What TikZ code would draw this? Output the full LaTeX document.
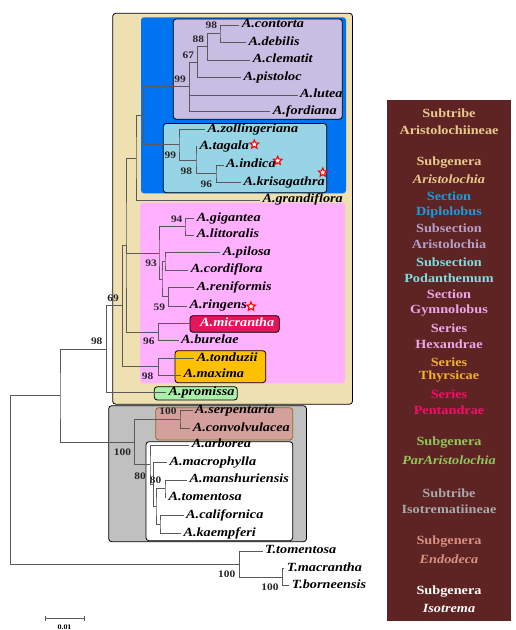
\documentclass[tikz,border=0pt]{standalone}
\usepackage{fontspec}
\setmainfont{Liberation Serif}[FakeStretch=1.14]
\usetikzlibrary{shapes.geometric}
\definecolor{brcol}{HTML}{5A5A5A}
\definecolor{tanbg}{HTML}{EEE0B0}
\definecolor{bluebg}{HTML}{0073F0}
\definecolor{purplebg}{HTML}{C8BEE4}
\definecolor{cyanbg}{HTML}{96D4E6}
\definecolor{pinkbg}{HTML}{FFB0FF}
\definecolor{redbg}{HTML}{E6145A}
\definecolor{orangebg}{HTML}{FFC000}
\definecolor{greenbg}{HTML}{AAF0AA}
\definecolor{greybg}{HTML}{C0C0C0}
\definecolor{brownbg}{HTML}{D4A09C}
\definecolor{brownln}{HTML}{8A7020}
\definecolor{legbg}{HTML}{5E2424}
\definecolor{lgtan}{HTML}{E8C88C}
\definecolor{lgblue}{HTML}{1A9BE0}
\definecolor{lglav}{HTML}{B4A0C8}
\definecolor{lgcyan}{HTML}{78E0E0}
\definecolor{lgpink}{HTML}{E8A8E8}
\definecolor{lgorange}{HTML}{F0B030}
\definecolor{lgmag}{HTML}{F0106A}
\definecolor{lggreen}{HTML}{90C858}
\definecolor{lggrey}{HTML}{A8A8A8}
\definecolor{lgsalmon}{HTML}{D89080}
\begin{document}
\begin{tikzpicture}[x=1pt,y=-1pt,
  br/.style={draw=brcol, line width=0.8pt},
  leaf/.style={anchor=west, inner xsep=2.5pt, xshift=-2.5pt, inner ysep=0pt,
    font=\fontsize{12.5}{14}\selectfont\bfseries\itshape, text height=8pt, text depth=2.5pt, text=black},
  bs/.style={inner sep=0pt, font=\fontsize{10}{12}\selectfont\bfseries, text=black!85},
  lg/.style={inner sep=0pt, font=\fontsize{12.5}{14}\selectfont\bfseries},
  lgi/.style={inner sep=0pt, font=\fontsize{12.5}{14}\selectfont\bfseries\itshape},
  cbox/.style={rounded corners=3pt, draw=black, line width=0.8pt},
  pbox/.style={rounded corners=3pt},
  rstar/.style={star, star points=5, star point ratio=2.2, minimum size=9pt, inner sep=0pt, draw=red, line width=1.1pt, fill=white}
]
\useasboundingbox (0,0) rectangle (516,630);
% clade boxes
\path[cbox, fill=tanbg] (112.7,13.3) rectangle (352.5,404.2);
\path[pbox, fill=bluebg] (141,17.3) rectangle (346,193.3);
\path[cbox, fill=purplebg] (173.3,19) rectangle (342.3,119.2);
\path[cbox, fill=cyanbg] (163.3,123.5) rectangle (326.7,192.7);
\path[pbox, fill=pinkbg] (140,202.5) rectangle (345,383.3);
\path[cbox, fill=redbg] (190,315.7) rectangle (279.3,332.3);
\path[cbox, fill=orangebg] (175,350.7) rectangle (265.7,382.7);
\path[cbox, fill=greenbg] (154.3,386.7) rectangle (237.3,400);
\path[cbox, fill=greybg] (108.7,405.7) rectangle (306.5,541.7);
\path[cbox, fill=brownbg, draw=brownln] (155.7,407.7) rectangle (292.7,440);
\path[cbox, fill=white] (146,441.7) rectangle (292.7,540.7);
% leaves
\node[leaf] (contorta) at (241.7,25) {A.contorta};
\node[leaf] (debilis) at (248.3,42.3) {A.debilis};
\node[leaf] (clematit) at (252.7,60) {A.clematit};
\node[leaf] (pistoloc) at (243.3,77.3) {A.pistoloc};
\node[leaf] (lutea) at (300,95) {A.lutea};
\node[leaf] (fordiana) at (272.7,111.7) {A.fordiana};
\node[leaf] (zollingeriana) at (207.3,129.3) {A.zollingeriana};
\node[leaf] (tagala) at (199.3,146.7) {A.tagala};
\node[leaf] (indica) at (226,165) {A.indica};
\node[leaf] (krisagathra) at (243.3,182.7) {A.krisagathra};
\node[leaf] (grandiflora) at (262.3,200) {A.grandiflora};
\node[leaf] (gigantea) at (196.7,218.3) {A.gigantea};
\node[leaf] (littoralis) at (196.7,235) {A.littoralis};
\node[leaf] (pilosa) at (222.7,252.7) {A.pilosa};
\node[leaf] (cordiflora) at (190.7,270) {A.cordiflora};
\node[leaf] (reniformis) at (196.7,287.7) {A.reniformis};
\node[leaf] (ringens) at (189.3,306) {A.ringens};
\node[leaf, text=white] (micrantha) at (200,323.3) {A.micrantha};
\node[leaf] (burelae) at (181,340.7) {A.burelae};
\node[leaf] (tonduzii) at (196.7,358.3) {A.tonduzii};
\node[leaf] (maxima) at (183.3,375) {A.maxima};
\node[leaf] (promissa) at (168.3,392.7) {A.promissa};
\node[leaf] (serpentaria) at (195,410.7) {A.serpentaria};
\node[leaf] (convolvulacea) at (192.7,428.3) {A.convolvulacea};
\node[leaf] (arborea) at (191.7,445) {A.arborea};
\node[leaf] (macrophylla) at (169.3,462.7) {A.macrophylla};
\node[leaf] (manshuriensis) at (189.3,480) {A.manshuriensis};
\node[leaf] (tomentosa) at (168.3,497.7) {A.tomentosa};
\node[leaf] (californica) at (186,515.7) {A.californica};
\node[leaf] (kaempferi) at (183.3,533.3) {A.kaempferi};
\node[leaf] (Ttom) at (265,551) {T.tomentosa};
\node[leaf] (Tmac) at (286.7,568.3) {T.macrantha};
\node[leaf] (Tbor) at (291.7,585.7) {T.borneensis};
% stars
\node[rstar] (s1) at (254.3,144.5) {};
\node[rstar] (s2) at (277.7,160.7) {};
\node[rstar] (s3) at (322.8,172.5) {};
\node[rstar] (s4) at (251,306.5) {};
% internal nodes
\coordinate (n98a) at (220,33.7);
\coordinate (n88) at (207.3,46.8);
\coordinate (n67) at (197.7,62);
\coordinate (n99a) at (189.3,86.8);
\coordinate (n96c) at (216,173.8);
\coordinate (n98c) at (196,160.3);
\coordinate (n99c) at (179,144.8);
\coordinate (nB) at (143.3,115.8);
\coordinate (nZ) at (136,157.9);
\coordinate (n94) at (185,226.7);
\coordinate (nP) at (165,261.3);
\coordinate (nR) at (168.3,296.8);
\coordinate (nW) at (162,279);
\coordinate (n93) at (159,252.9);
\coordinate (n96m) at (158.3,332);
\coordinate (nY) at (126,245);
\coordinate (n98t) at (158.3,366.7);
\coordinate (nX) at (122.7,305.8);
\coordinate (n69) at (106.7,349.3);
\coordinate (nS) at (180,419.5);
\coordinate (nMT) at (165,488.8);
\coordinate (nCK) at (160,524.5);
\coordinate (nI3) at (156,506.7);
\coordinate (nI2) at (153.3,484.7);
\coordinate (nI1) at (150,464.8);
\coordinate (nE) at (134.3,442.2);
\coordinate (n98) at (60,395.8);
\coordinate (nTm) at (282.7,577);
\coordinate (nT) at (239.3,564);
\coordinate (root) at (10.7,479.9);
% branches
\draw[br] (contorta.west) -| (n98a) |- (debilis.west);
\draw[br] (n98a) -| (n88) |- (clematit.west);
\draw[br] (n88) -| (n67) |- (pistoloc.west);
\draw[br] (n67) -| (n99a) |- (fordiana.west);
\draw[br] (n99a) |- (lutea.west);
\draw[br] (indica.west) -| (n96c) |- (krisagathra.west);
\draw[br] (tagala.west) -| (n98c) |- (n96c);
\draw[br] (zollingeriana.west) -| (n99c) |- (n98c);
\draw[br] (n99a) -| (nB) |- (n99c);
\draw[br] (nB) -| (nZ) |- (grandiflora.west);
\draw[br] (gigantea.west) -| (n94) |- (littoralis.west);
\draw[br] (pilosa.west) -| (nP) |- (cordiflora.west);
\draw[br] (reniformis.west) -| (nR) |- (ringens.west);
\draw[br] (nP) -| (nW) |- (nR);
\draw[br] (n94) -| (n93) |- (nW);
\draw[br] (micrantha.west) -| (n96m) |- (burelae.west);
\draw[br] (nZ) -| (nY) |- (n96m);
\draw[br] (nY) |- (n93);
\draw[br] (tonduzii.west) -| (n98t) |- (maxima.west);
\draw[br] (nY) -| (nX) |- (n98t);
\draw[br] (nX) -| (n69) |- (promissa.west);
\draw[br] (serpentaria.west) -| (nS) |- (convolvulacea.west);
\draw[br] (manshuriensis.west) -| (nMT) |- (tomentosa.west);
\draw[br] (californica.west) -| (nCK) |- (kaempferi.west);
\draw[br] (nMT) -| (nI3) |- (nCK);
\draw[br] (macrophylla.west) -| (nI2) |- (nI3);
\draw[br] (arborea.west) -| (nI1) |- (nI2);
\draw[br] (nS) -| (nE) |- (nI1);
\draw[br] (n69) -| (n98) |- (nE);
\draw[br] (Tmac.west) -| (nTm) |- (Tbor.west);
\draw[br] (Ttom.west) -| (nT) |- (nTm);
\draw[br] (n98) -| (root) |- (nT);
% bootstrap values
\node[bs] (b1) at (211.3,25) {98};
\node[bs] (b2) at (198.3,39.3) {88};
\node[bs] (b3) at (188.3,55) {67};
\node[bs] (b4) at (180,79.3) {99};
\node[bs] (b5) at (170.3,155.7) {99};
\node[bs] (b6) at (186.3,171.7) {98};
\node[bs] (b7) at (206.3,184) {96};
\node[bs] (b8) at (176.7,219.3) {94};
\node[bs] (b9) at (151,263.3) {93};
\node[bs] (b10) at (159.3,307.3) {59};
\node[bs] (b11) at (148.8,341.7) {96};
\node[bs] (b12) at (147.5,376.7) {98};
\node[bs] (b13) at (113,298.3) {69};
\node[bs] (b14) at (96.7,341.7) {98};
\node[bs] (b15) at (168,411.5) {100};
\node[bs] (b16) at (122.5,452.7) {100};
\node[bs] (b17) at (140,476) {80};
\node[bs] (b18) at (155.5,480.7) {80};
\node[bs] (b19) at (226.7,574) {100};
\node[bs] (b20) at (270,587.3) {100};
% scale bar
\coordinate (sbl) at (45,618.3);
\coordinate (sbr) at (84.3,618.3);
\draw[br] (sbl) -- (sbr);
\draw[br] ([yshift=-2.5pt]sbl) -- ([yshift=2.5pt]sbl);
\draw[br] ([yshift=-2.5pt]sbr) -- ([yshift=2.5pt]sbr);
\node[inner sep=0pt, font=\fontsize{7}{8}\selectfont\bfseries] (sbt) at (64.5,627.3) {0.01};
% legend
\path[fill=legbg] (387,100) rectangle (511,621);
\node[lg, text=lgtan] (l1) at (449,113) {Subtribe};
\node[lg, text=lgtan] (l2) at (449,130) {Aristolochiineae};
\node[lg, text=lgtan] (l3) at (449,163) {Subgenera};
\node[lgi, text=lgtan] (l4) at (449,179) {Aristolochia};
\node[lg, text=lgblue] (l5) at (449,196) {Section};
\node[lg, text=lgblue] (l6) at (449,212) {Diplolobus};
\node[lg, text=lglav] (l7) at (449,228) {Subsection};
\node[lg, text=lglav] (l8) at (449,244) {Aristolochia};
\node[lg, text=lgcyan] (l9) at (449,262) {Subsection};
\node[lg, text=lgcyan] (l10) at (449,278) {Podanthemum};
\node[lg, text=lgpink] (l11) at (449,294) {Section};
\node[lg, text=lgpink] (l12) at (449,311) {Gymnolobus};
\node[lg, text=lgpink] (l13) at (449,328) {Series};
\node[lg, text=lgpink] (l14) at (449,344) {Hexandrae};
\node[lg, text=lgorange] (l15) at (449,362) {Series};
\node[lg, text=lgorange] (l16) at (449,377) {Thyrsicae};
\node[lg, text=lgmag] (l17) at (449,394) {Series};
\node[lg, text=lgmag] (l18) at (449,410) {Pentandrae};
\node[lg, text=lggreen] (l19) at (449,443) {Subgenera};
\node[lgi, text=lggreen] (l20) at (449,460) {ParAristolochia};
\node[lg, text=lggrey] (l21) at (449,493) {Subtribe};
\node[lg, text=lggrey] (l22) at (449,509) {Isotrematiineae};
\node[lg, text=lgsalmon] (l23) at (449,542) {Subgenera};
\node[lgi, text=lgsalmon] (l24) at (449,559) {Endodeca};
\node[lg, text=white] (l25) at (449,592) {Subgenera};
\node[lgi, text=white] (l26) at (449,608) {Isotrema};
\end{tikzpicture}
\end{document}
